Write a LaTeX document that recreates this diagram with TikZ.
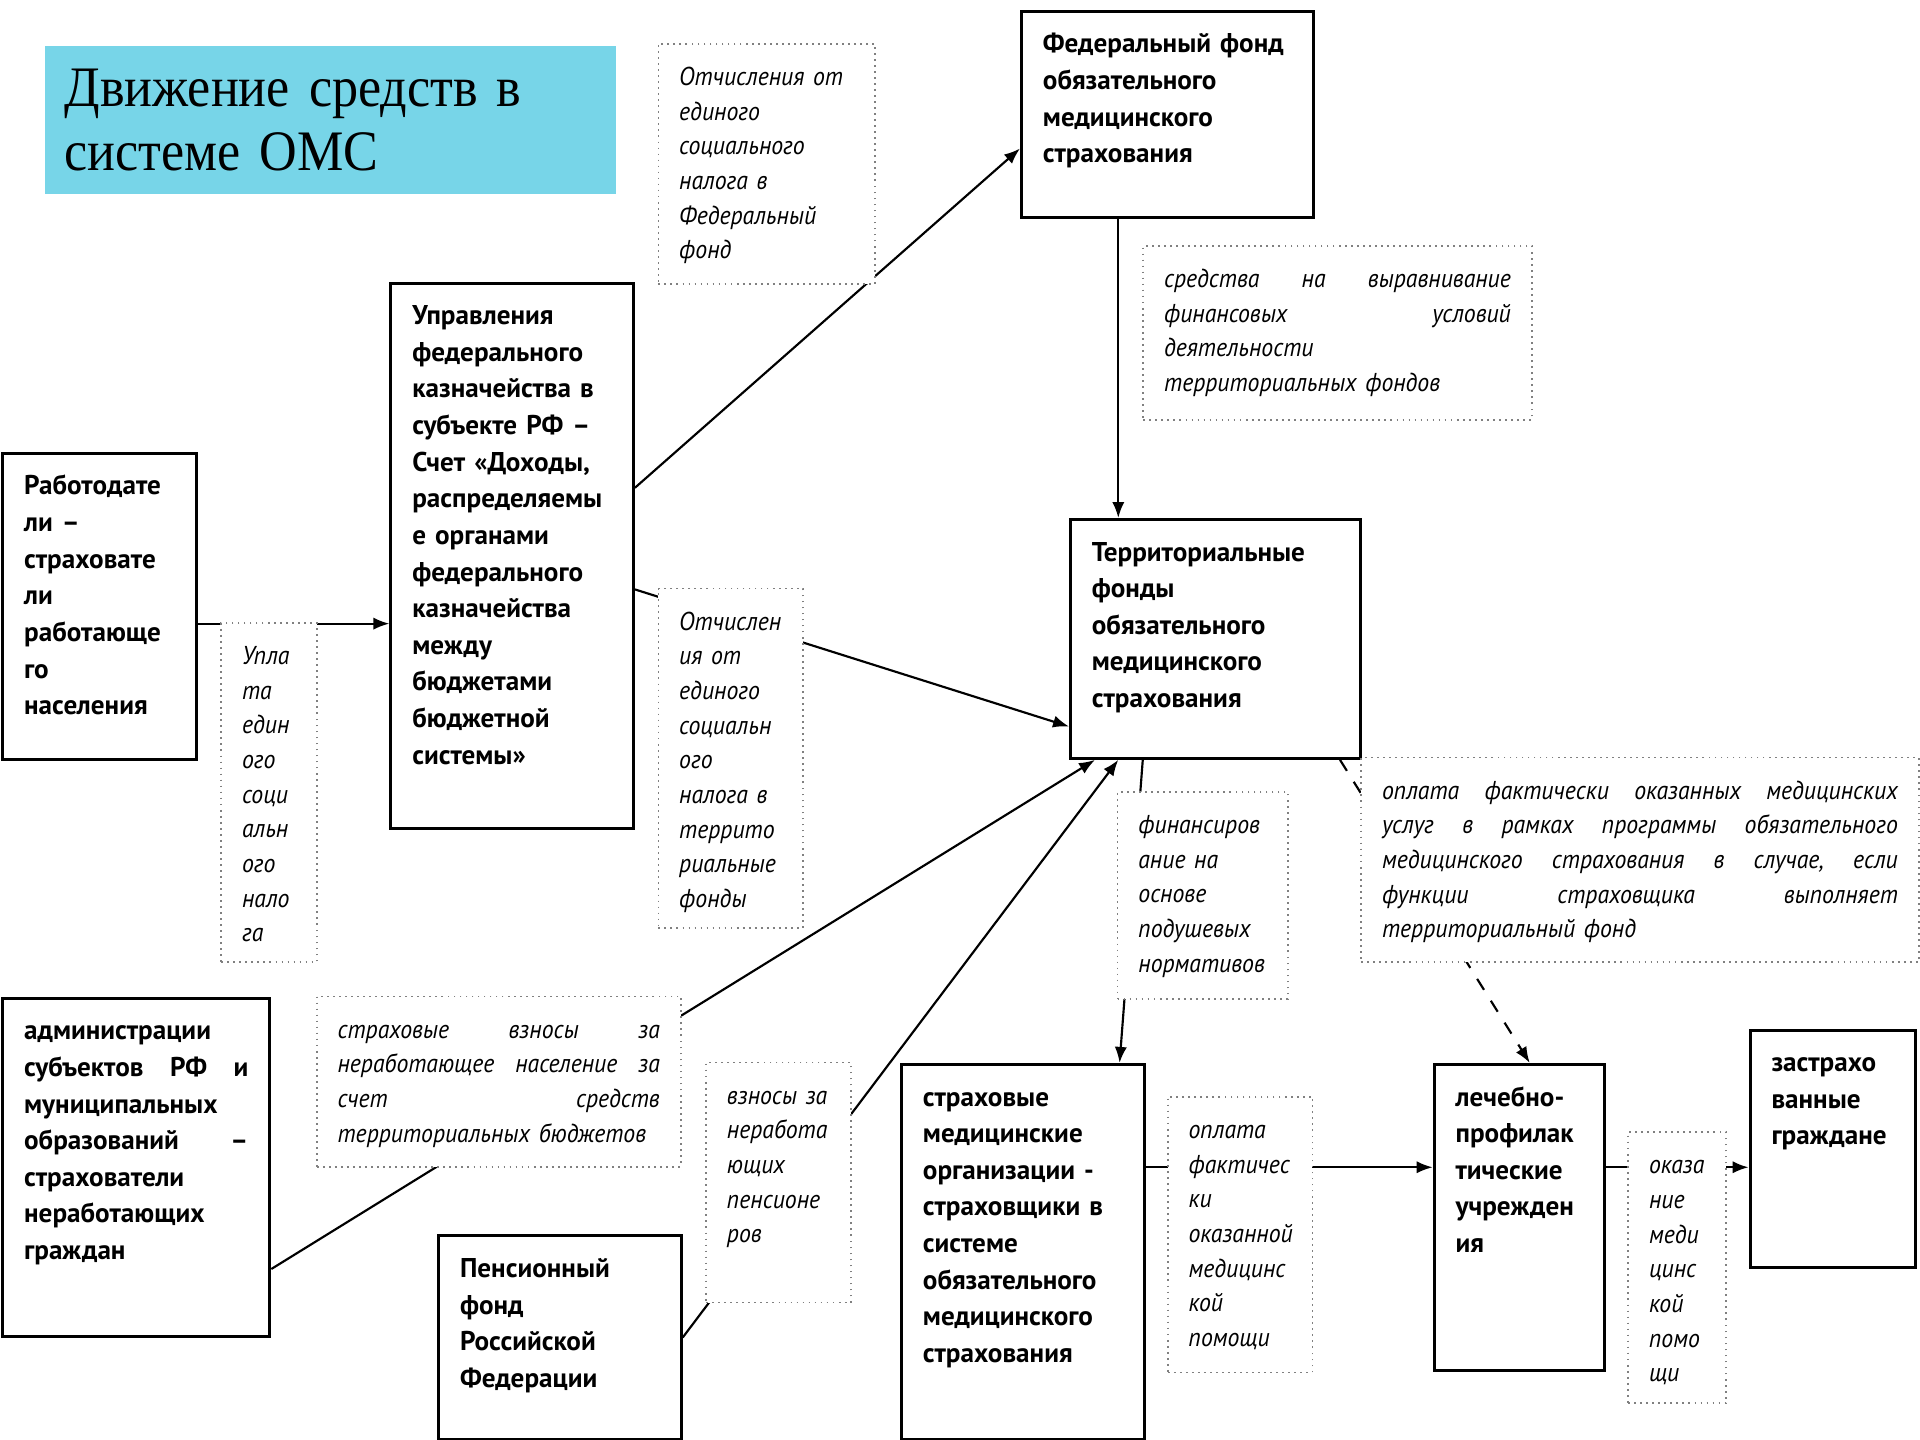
\documentclass[tikz,border=0pt]{standalone}
\usepackage{fontspec}
\setmainfont{PT Sans}
\newfontfamily\titlefont[FakeStretch=0.91]{Liberation Serif}
\newfontfamily\notefont[FakeStretch=0.92]{PT Sans}
\usepackage{xcolor}
\usetikzlibrary{arrows.meta,calc}
\definecolor{titlecyan}{RGB}{119,213,232}

\begin{document}
\begin{tikzpicture}[x=0.01cm, y=-0.01cm,
    box/.style={draw, line width=0.7pt, anchor=north west, align=left,
      inner xsep=0.175cm, inner ysep=0.14cm, text height=0.2cm,
      font=\fontsize{6.3}{8.5}\selectfont\bfseries},
    note/.style={draw=gray, densely dotted, fill=white, anchor=north west, align=left,
      inner xsep=0.17cm, inner ysep=0.14cm, text height=0.2cm,
      font=\notefont\fontsize{6}{8.05}\selectfont\itshape},
    flow/.style={-{Latex[length=1.3mm,width=1mm]}, line width=0.5pt}]
    \useasboundingbox (0,0) rectangle (1568,1176);

    % title
    \node[fill=titlecyan, anchor=north west, minimum width=4.66cm, minimum height=1.21cm,
      text width=4.34cm, inner xsep=0.16cm, align=left,
      font=\titlefont\fontsize{13.3}{14.8}\selectfont] (title) at (36,37)
      {Движение средств в\\ системе ОМС};

    % participants
    \node[box, text width=2.03cm, text depth=1.20cm] (ffoms) at (833,8)
      {Федеральный фонд\\ обязательного\\ медицинского\\ страхования};
    \node[box, text width=1.63cm, text depth=3.97cm] (ufk) at (318,230)
      {Управления\\ федерального\\ казначейства в\\ субъекте РФ –\\ Счет «Доходы,\\ распределяемы\\ е органами\\ федерального\\ казначейства\\ между\\ бюджетами\\ бюджетной\\ системы»};
    \node[box, text width=1.23cm, text depth=2.02cm] (rab) at (1,369)
      {Работодате\\ ли –\\ страховате\\ ли\\ работающе\\ го\\ населения};
    \node[box, text width=2.02cm, text depth=1.47cm] (tfoms) at (873,423)
      {Территориальные\\ фонды\\ обязательного\\ медицинского\\ страхования};
    \node[box, text width=1.83cm, text depth=2.28cm] (adm) at (1,814)
      {администрации\\ субъектов \hfill РФ \hfill и\\ муниципальных\\ образований \hfill –\\ страхователи\\ неработающих\\ граждан};
    \node[box, text width=1.63cm, text depth=1.18cm] (pfr) at (357,1008)
      {Пенсионный\\ фонд\\ Российской\\ Федерации};
    \node[box, text width=1.63cm, text depth=2.58cm] (smo) at (735,868)
      {страховые\\ медицинские\\ организации~-\\ страховщики~в\\ системе\\ обязательного\\ медицинского\\ страхования};
    \node[box, text width=1.04cm, text depth=2.02cm] (lpu) at (1170,868)
      {лечебно-\\ профилак\\ тические\\ учрежден\\ ия};
    \node[box, text width=1.00cm, text depth=1.46cm] (zg) at (1428,840)
      {застрахо\\ ванные\\ граждане};

    % money flows
    \coordinate (r1) at ([yshift=-0.14cm]rab.east);
    \draw[flow] (r1) -- (r1 -| ufk.west);
    \draw[flow] ([yshift=0.555cm]ufk.east) -- ([yshift=-0.28cm]ffoms.west);
    \coordinate (f1) at ([xshift=-0.4cm]ffoms.south);
    \draw[flow] (f1) -- (f1 |- tfoms.north);
    \draw[flow] ([yshift=-0.275cm]ufk.east) -- ([yshift=-0.715cm]tfoms.west);
    \draw[flow] ([xshift=-0.595cm]tfoms.south) -- ([xshift=0.79cm]smo.north);
    \draw[flow, dashed] ([xshift=1.015cm]tfoms.south) -- ([xshift=0.085cm]lpu.north);
    \draw[flow] ([yshift=-0.83cm]adm.east) -- ([xshift=-0.985cm]tfoms.south);
    \draw[flow] (pfr.east) -- ([xshift=-0.795cm]tfoms.south);
    \coordinate (s1) at ([yshift=0.69cm]smo.east);
    \draw[flow] (s1) -- (s1 -| lpu.west);
    \coordinate (l1) at ([yshift=0.41cm]lpu.east);
    \draw[flow] (l1) -- (l1 -| zg.west);

    % flow labels
    \node[note, text width=1.43cm, text depth=1.48cm] (nfed) at (537,35)
      {Отчисления~от\\ единого\\ социального\\ налога~в\\ Федеральный\\ фонд};
    \node[note, text width=2.83cm, text depth=0.94cm] (nalign) at (933,200)
      {средства \hfill на \hfill выравнивание\\ финансовых \hfill условий\\ деятельности\\ территориальных~фондов};
    \node[note, text width=0.44cm, text depth=2.29cm] (ntax) at (180,508)
      {Упла\\ та\\ един\\ ого\\ соци\\ альн\\ ого\\ нало\\ га};
    \node[note, text width=0.84cm, text depth=2.29cm] (nter) at (537,480)
      {Отчислен\\ ия~от\\ единого\\ социальн\\ ого\\ налога~в\\ террито\\ риальные\\ фонды};
    \node[note, text width=1.05cm, text depth=1.21cm] (ncap) at (912,646)
      {финансиров\\ ание~на\\ основе\\ подушевых\\ нормативов};
    \node[note, text width=4.21cm, text depth=1.19cm] (npay) at (1111,618)
      {оплата \hfill фактически \hfill оказанных \hfill медицинских\\ услуг \hfill в \hfill рамках \hfill программы \hfill обязательного\\ медицинского \hfill страхования \hfill в \hfill случае, \hfill если\\ функции \hfill страховщика \hfill выполняет\\ территориальный~фонд};
    \node[note, text width=2.63cm, text depth=0.91cm] (nbud) at (258,813)
      {страховые \hfill взносы \hfill за\\ неработающее \hfill население \hfill за\\ счет \hfill средств\\ территориальных~бюджетов};
    \node[note, text width=0.84cm, text depth=1.48cm] (npen) at (576,867)
      {взносы~за\\ неработа\\ ющих\\ пенсионе\\ ров};
    \node[note, text width=0.84cm, text depth=1.77cm] (nmed) at (953,895)
      {оплата\\ фактичес\\ ки\\ оказанной\\ медицинс\\ кой\\ помощи};
    \node[note, text width=0.46cm, text depth=1.73cm] (nhelp) at (1329,924)
      {оказа\\ ние\\ меди\\ цинс\\ кой\\ помо\\ щи};
\end{tikzpicture}
\end{document}
